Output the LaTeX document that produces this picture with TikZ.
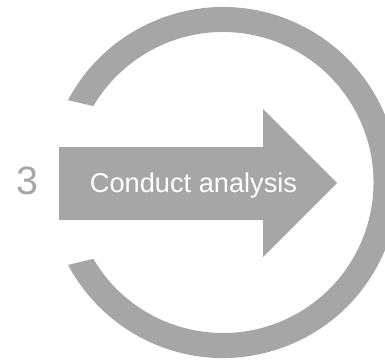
\documentclass[tikz,border=0pt]{standalone}
\usepackage{fontspec}
\setmainfont{Liberation Sans}
\definecolor{ringgray}{RGB}{166,166,166}
\begin{document}
\begin{tikzpicture}[x=1pt,y=1pt,
  shapefill/.style={fill=ringgray,draw=none},
  steplabel/.style={font=\fontsize{27.2}{30}\selectfont,text=white,inner sep=0pt,anchor=base},
  stepnumber/.style={font=\fontsize{39.5}{44}\selectfont,text=ringgray,inner sep=0pt,anchor=base}]
\useasboundingbox (0,0) rectangle (385,360);
\coordinate (c) at (223,177.5);
% open ring, gap on the left
\fill[shapefill] ([shift={(152:175.5)}]c) arc[start angle=152,end angle=-152,radius=175.5]
  -- ([shift={(-149.5:150.5)}]c) arc[start angle=-149.5,end angle=149.5,radius=150.5] -- cycle;
% block arrow
\fill[shapefill] (59,213) -- (263,213) -- (263,251) -- (337,177) -- (263,103) -- (263,140) -- (59,140) -- cycle;
\node[steplabel] (label) at (193.5,168) {Conduct analysis};
\node[stepnumber] (num) at (27.2,166) {3};
\end{tikzpicture}
\end{document}
